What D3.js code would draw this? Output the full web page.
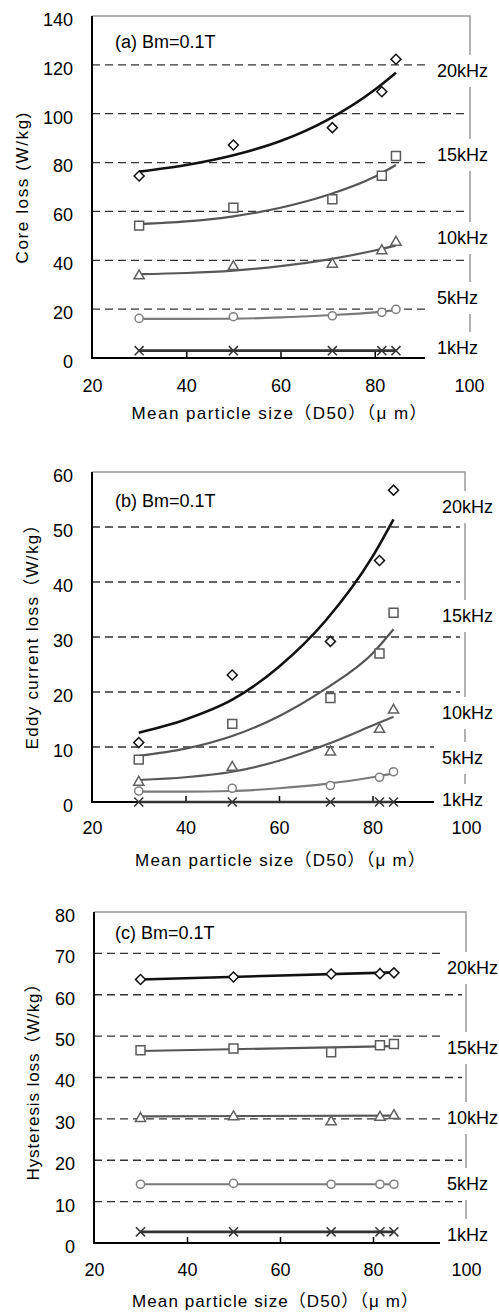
<!DOCTYPE html>
<meta charset="utf-8">
<title>Core loss vs particle size</title>
<style>
body { margin: 0; background: white; }
text { font-family: "Liberation Sans", Arial, "Noto Sans CJK JP", sans-serif; fill: #000; }
</style>
<body>
<script src="https://d3js.org/d3.v7.min.js"></script>
<script>

// mean particle size of the five samples
var sizes = [30, 50, 71, 81.5, 84.5];
var freqs = ["20kHz", "15kHz", "10kHz", "5kHz", "1kHz"];
var xTicks = [20, 40, 60, 80, 100];

var fitX = [30, 40, 50, 60, 70, 80, 84.5];
var fitXLinear = [30, 84.5];

// (a) core loss, W/kg : one row per frequency
var corePts = [
	[74.5, 87.2, 94.3, 109, 122.3],
	[54.2, 61.5, 65, 74.6, 82.7],
	[33.6, 37.4, 38.4, 43.9, 47.4],
	[16.2, 16.9, 17.3, 18.7, 19.9],
	[3, 3, 3, 3, 3]
];
var coreFit = [
	[76.3, 79, 83, 88.8, 97.5, 109.8, 116.8],
	[54.8, 55.9, 58.0, 61.5, 66.7, 74.2, 79],
	[34.3, 34.8, 35.8, 37.6, 40.3, 44.0, 46],
	[16, 16, 16.1, 16.6, 17.5, 18.7, 19.6],
	[3, 3, 3, 3, 3, 3, 3]
];

// (b) eddy current loss
var eddyPts = [
	[10.8, 23.1, 29.2, 43.9, 56.7],
	[7.7, 14.2, 18.9, 27.0, 34.4],
	[3.6, 6.3, 9.1, 13.2, 16.7],
	[2.0, 2.5, 3.0, 4.5, 5.5],
	[0, 0, 0, 0, 0]
];
var eddyFit = [
	[12.6, 15, 18.6, 24.6, 33, 44.6, 51.4],
	[8.4, 9.7, 12.0, 15.6, 20.6, 27, 31.4],
	[4.0, 4.5, 5.5, 7.5, 10.4, 13.9, 15.5],
	[1.9, 1.9, 2.0, 2.5, 3.3, 4.5, 5.2],
	[0, 0, 0, 0, 0, 0, 0]
];

// (c) hysteresis loss
var hystPts = [
	[63.7, 64.3, 65.0, 65.1, 65.3],
	[46.6, 47.0, 46.1, 47.8, 48.1],
	[30.1, 30.5, 29.3, 30.4, 30.8],
	[14.2, 14.4, 14.2, 14.2, 14.2],
	[2.7, 2.7, 2.7, 2.7, 2.7]
];
var hystFit = [
	[63.7, 65.4],
	[46.4, 47.6],
	[30.6, 30.8],
	[14.2, 14.2],
	[2.7, 2.7]
];

// layout of the three stacked panels
var panels = [
	{pts: corePts, fit: coreFit, fx: fitX, yMax: 140, yStep: 20,
	 x0: 92, x1: 469, y0: 358, y1: 16, axisEnd: 430, borderX: 470, gridEnd: 469,
	 labelX: 437, boxX: 425, labelY: [71, 155, 238, 298, 348],
	 title: "(a) Bm=0.1T", titleY: 42,
	 yTitle: "Core loss (W/kg)", yTitleX: 22, yTitleY: 188, yTitleLen: 151,
	 tickPad: 21, xTitleY: 413, xTitleX: 279, xTitleLen: 295},
	{pts: eddyPts, fit: eddyFit, fx: fitX, yMax: 60, yStep: 10,
	 x0: 92, x1: 466, y0: 802, y1: 472, axisEnd: 435, borderX: 465, gridEnd: 460,
	 labelX: 442, boxX: 434, labelY: [507, 616, 713, 758, 800],
	 title: "(b) Bm=0.1T", titleY: 501,
	 yTitle: "Eddy current loss（W/kg）", yTitleX: 32, yTitleY: 633, yTitleLen: 233,
	 tickPad: 19, xTitleY: 860, xTitleX: 280, xTitleLen: 290},
	{pts: hystPts, fit: hystFit, fx: fitXLinear, yMax: 80, yStep: 10,
	 x0: 94, x1: 466, y0: 1243, y1: 912, axisEnd: 440, borderX: 466, gridEnd: 462,
	 labelX: 447, boxX: 443, labelY: [968, 1048, 1118, 1184, 1235],
	 title: "(c) Bm=0.1T", titleY: 933,
	 yTitle: "Hysteresis loss（W/kg）", yTitleX: 33, yTitleY: 1078, yTitleLen: 205,
	 tickPad: 20, xTitleY: 1301, xTitleX: 275, xTitleLen: 286}
];

var lineColor = ["#111", "#555", "#585858", "#7a7a7a", "#333"];
var markColor = ["#111", "#5a5a5a", "#606060", "#808080", "#333"];
var lineWidth = [2.6, 2.2, 2.2, 2.2, 2.6];

var markers = [
	{type: d3.symbolSquare, size: 50, rot: 45},
	{type: d3.symbolSquare, size: 80, rot: 0},
	{type: d3.symbolTriangle, size: 45, rot: 0},
	{type: d3.symbolCircle, size: 52, rot: 0},
	{type: d3.symbolTimes, size: 55, rot: 0}
];

var svg = d3.select("body").append("svg")
	.attr("width", 499)
	.attr("height", 1312);

svg.append("rect").attr("width", 499).attr("height", 1312).attr("fill", "white");

panels.forEach(function(p){
	var x = d3.scaleLinear().domain([20, 100]).range([p.x0, p.x1]);
	var y = d3.scaleLinear().domain([0, p.yMax]).range([p.y0, p.y1]);
	var yTicks = d3.range(0, p.yMax + 1, p.yStep);
	var g = svg.append("g");

	// dashed grid
	g.selectAll(".grid")
		.data(yTicks.filter(function(d){ return d > 0 && d < p.yMax; }))
		.join("line")
		.attr("x1", p.x0).attr("x2", p.gridEnd)
		.attr("y1", function(d){ return y(d); })
		.attr("y2", function(d){ return y(d); })
		.attr("stroke", "#333")
		.attr("stroke-width", 1.3)
		.attr("stroke-dasharray", "8,5");

	// grey frame top/right
	g.append("path")
		.attr("d", "M" + p.x0 + "," + y(p.yMax) + "H" + p.borderX + "V" + y(0))
		.attr("fill", "none")
		.attr("stroke", "#999")
		.attr("stroke-width", 1.5);

	// black axes
	g.append("path")
		.attr("d", "M" + p.x0 + "," + y(p.yMax) + "V" + y(0) + "H" + p.axisEnd)
		.attr("fill", "none")
		.attr("stroke", "#000")
		.attr("stroke-width", 2);

	var tickG = g.append("g")
		.attr("transform", "translate(0," + y(0) + ")")
		.call(d3.axisBottom(x).tickValues([40, 60, 80]).tickSize(-6).tickFormat(""));
	tickG.select(".domain").remove();
	tickG.selectAll("line").attr("stroke", "#000").attr("stroke-width", 1.5);

	// fitted curves
	p.fit.forEach(function(row, s){
		var line = d3.line()
			.x(function(d, i){ return x(p.fx[i]); })
			.y(function(d){ return y(d); })
			.curve(d3.curveMonotoneX);
		g.append("path")
			.attr("d", line(row))
			.attr("fill", "none")
			.attr("stroke", lineColor[s])
			.attr("stroke-width", lineWidth[s]);
	});

	// measured points
	p.pts.forEach(function(row, s){
		var m = markers[s];
		g.selectAll(".m" + s)
			.data(row)
			.join("path")
			.attr("transform", function(d, i){
				return "translate(" + x(sizes[i]) + "," + y(d) + ") rotate(" + m.rot + ")";
			})
			.attr("d", d3.symbol().type(m.type).size(m.size))
			.attr("fill", s == 4 ? "none" : "white")
			.attr("stroke", markColor[s])
			.attr("stroke-width", 1.5);
	});

	// frequency labels in white boxes
	freqs.forEach(function(f, s){
		g.append("rect")
			.attr("x", p.boxX).attr("y", p.labelY[s] - 16)
			.attr("width", 499 - p.boxX).attr("height", 32)
			.attr("fill", "white");
		g.append("text")
			.attr("x", p.labelX).attr("y", p.labelY[s])
			.attr("dy", "0.35em")
			.attr("font-size", 18)
			.text(f);
	});

	// tick labels
	var xl = g.append("g")
		.attr("transform", "translate(0," + y(0) + ")")
		.call(d3.axisBottom(x).tickValues(xTicks).tickSize(0).tickPadding(p.tickPad));
	xl.select(".domain").remove();
	xl.selectAll("text").attr("font-size", 18).attr("font-family", null);

	var yl = g.append("g")
		.attr("transform", "translate(" + p.x0 + ",0)")
		.call(d3.axisLeft(y).tickValues(yTicks).tickSize(0).tickPadding(19));
	yl.select(".domain").remove();
	yl.selectAll("text").attr("font-size", 18).attr("font-family", null).attr("dy", "0.52em");

	// titles
	g.append("text")
		.attr("x", 115).attr("y", p.titleY).attr("dy", "0.35em")
		.attr("font-size", 18)
		.text(p.title);

	g.append("text")
		.attr("transform", "translate(" + p.yTitleX + "," + p.yTitleY + ") rotate(-90)")
		.attr("text-anchor", "middle")
		.attr("dy", "0.35em")
		.attr("font-size", 17)
		.attr("textLength", p.yTitleLen)
		.attr("lengthAdjust", "spacing")
		.text(p.yTitle);

	g.append("text")
		.attr("x", p.xTitleX).attr("y", p.xTitleY)
		.attr("text-anchor", "middle")
		.attr("dy", "0.35em")
		.attr("font-size", 17)
		.attr("textLength", p.xTitleLen)
		.attr("lengthAdjust", "spacing")
		.text("Mean particle size（D50）（μ m）");
});

</script>
</body>
